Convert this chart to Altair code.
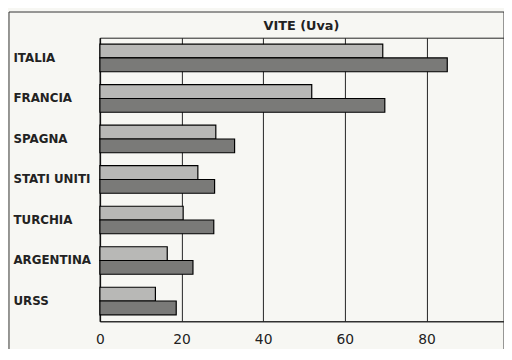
import altair as alt
import pandas as pd

countries = ["ITALIA", "FRANCIA", "SPAGNA", "STATI UNITI", "TURCHIA", "ARGENTINA", "URSS"]
serie_chiara = [69.3, 51.9, 28.4, 24.0, 20.4, 16.5, 13.6]
serie_scura = [85.1, 69.8, 33.0, 28.1, 27.9, 22.8, 18.7]
series_names = ["A", "B"]
x_ticks = [0, 20, 40, 60, 80]
title_text = "VITE (Uva)"

rows = []
for c, a, b in zip(countries, serie_chiara, serie_scura):
    rows.append({"paese": c, "serie": series_names[0], "valore": a})
    rows.append({"paese": c, "serie": series_names[1], "valore": b})
df = pd.DataFrame(rows)

FONT = "DejaVu Sans"

bars = alt.Chart(df).mark_bar(stroke="black", strokeWidth=1.2).encode(
    x=alt.X("valore:Q",
            scale=alt.Scale(domain=[0, 99], nice=False, zero=True),
            axis=alt.Axis(values=x_ticks, title=None, grid=True, gridColor="#222",
                          gridWidth=1, ticks=False, domain=True, domainColor="#222",
                          labelFont=FONT, labelFontSize=14, labelColor="#222",
                          labelPadding=11, labelFlush=False)),
    y=alt.Y("paese:N", sort=countries,
            scale=alt.Scale(paddingInner=0.32, paddingOuter=0.16),
            axis=alt.Axis(title=None, ticks=False, domain=True, domainColor="#111",
                          domainWidth=1.5,
                          labelAlign="left", labelPadding=88, labelFont=FONT,
                          labelFontSize=12, labelFontWeight="bold", labelColor="#222")),
    yOffset=alt.YOffset("serie:N", sort=series_names),
    color=alt.Color("serie:N", sort=series_names,
                    scale=alt.Scale(domain=series_names, range=["#b8b8b6", "#7a7a78"]),
                    legend=None),
)

frame = alt.Chart(pd.DataFrame({"k": [0]})).mark_rect(
    fill=None, stroke="#333", strokeWidth=1, clip=False
).encode(
    x=alt.value(-92), x2=alt.value(409), y=alt.value(-26), y2=alt.value(340)
)

title = alt.Chart(pd.DataFrame({"t": [title_text]})).mark_text(
    font=FONT, fontSize=13, fontWeight="bold", color="#222",
    align="center", baseline="middle", clip=False
).encode(
    text="t:N", x=alt.value(204), y=alt.value(-12)
)

chart = alt.layer(frame, bars, title).properties(
    width=409, height=287,
    autosize=alt.AutoSizeParams(type="none"),
    padding={"left": 93, "top": 28, "right": 0, "bottom": 26},
    background="#f7f7f3",
).configure_view(stroke="#222", strokeWidth=1)

chart.save("out.html", embed_options={"renderer": "svg", "actions": False})
